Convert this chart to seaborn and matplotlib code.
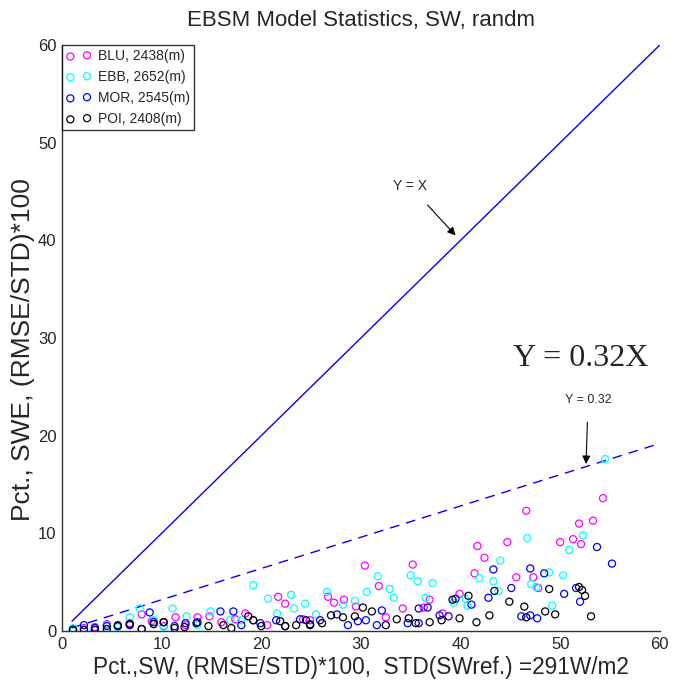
import numpy as np
import pandas as pd
import matplotlib
matplotlib.use("Agg")
import matplotlib.pyplot as plt
import seaborn as sns

sns.set_style("white")
plt.rcParams['font.family'] = ['Liberation Sans', 'DejaVu Sans']

title = "EBSM Model Statistics, SW, randm"
xlabel = "Pct.,SW, (RMSE/STD)*100,  STD(SWref.) =291W/m2"
ylabel = "Pct., SWE, (RMSE/STD)*100"
stations = ["BLU, 2438(m)", "EBB, 2652(m)", "MOR, 2545(m)", "POI, 2408(m)"]
colors = ["#ff00ff", "#00ffff", "#0000ff", "#000000"]

blu_x = [1.1, 2.2, 3.3, 4.5, 5.6, 6.8, 8.0, 9.0, 10.2, 11.4, 12.4, 13.6, 14.8, 16.0, 17.4, 18.4,
         19.2, 20.6, 21.7, 22.4, 24.2, 24.9, 26.7, 27.3, 28.3, 29.5, 30.4, 31.8, 32.5, 34.2, 35.2,
         36.3, 36.9, 38.2, 39.9, 41.4, 41.7, 42.4, 44.7, 45.6, 46.6, 47.3, 47.8, 50.0, 51.3, 51.9,
         52.1, 53.3, 54.3]
blu_y = [0.2, 0.3, 0.4, 0.7, 0.5, 0.8, 1.7, 1.0, 0.5, 1.4, 0.6, 1.4, 1.5, 0.9, 1.2, 1.8,
         1.1, 0.6, 3.5, 2.8, 1.2, 1.1, 3.5, 2.9, 3.2, 2.5, 6.7, 4.6, 1.4, 2.3, 6.8,
         2.4, 3.2, 1.8, 3.8, 5.9, 8.7, 7.5, 9.1, 5.5, 12.3, 5.5, 4.4, 9.1, 9.4, 11.0,
         8.9, 11.3, 13.6]

ebb_x = [1.1, 2.2, 3.3, 4.5, 5.6, 6.8, 7.8, 9.2, 10.2, 11.1, 12.5, 13.6, 14.9, 16.9, 18.0, 19.2,
         20.7, 21.6, 23.0, 23.3, 24.4, 25.5, 26.6, 28.2, 29.4, 30.6, 31.7, 32.9, 33.3, 35.0, 35.7,
         36.5, 37.2, 39.3, 40.5, 40.7, 41.9, 43.3, 43.8, 44.0, 46.7, 47.1, 47.6, 48.9, 49.2, 50.3,
         50.9, 52.3, 54.5]
ebb_y = [0.3, 0.2, 0.2, 0.6, 0.4, 1.4, 2.3, 1.1, 0.4, 2.3, 1.5, 0.6, 2.0, 1.1, 1.1, 4.7,
         3.3, 1.8, 3.7, 2.3, 2.8, 1.7, 4.0, 2.7, 3.1, 4.0, 5.6, 4.3, 3.4, 5.7, 5.1,
         3.4, 4.9, 2.9, 3.3, 2.6, 5.4, 5.1, 4.1, 7.2, 9.5, 4.8, 4.5, 6.0, 2.6, 5.7,
         8.3, 9.8, 17.6]

mor_x = [1.1, 2.2, 3.3, 4.5, 5.6, 6.8, 8.0, 8.8, 9.2, 10.2, 11.3, 12.4, 13.6, 15.9, 17.2, 18.0,
         19.9, 21.5, 22.4, 23.9, 24.9, 25.9, 27.6, 28.7, 29.7, 30.5, 31.6, 32.1, 34.7, 35.8, 35.8,
         36.7, 37.9, 38.8, 39.5, 41.1, 42.8, 43.3, 45.1, 46.1, 47.0, 47.0, 47.7, 48.4, 50.4, 51.6,
         52.0, 53.7, 55.2]
mor_y = [0.1, 0.6, 0.3, 0.5, 0.6, 0.6, 0.2, 1.9, 0.9, 0.9, 0.5, 0.8, 0.9, 2.0, 2.0, 0.6,
         0.8, 1.1, 0.5, 1.2, 0.7, 1.1, 1.7, 0.6, 1.0, 1.1, 0.6, 2.1, 0.8, 0.8, 2.3,
         2.4, 1.6, 1.5, 3.3, 2.7, 3.4, 6.3, 4.4, 1.5, 1.6, 6.4, 1.3, 5.9, 3.8, 4.4,
         3.0, 8.6, 6.9]

poi_x = [1.1, 2.2, 3.3, 4.5, 5.6, 6.8, 8.0, 9.2, 10.2, 11.3, 12.3, 13.5, 14.7, 16.2, 17.0, 18.7,
         19.2, 20.0, 21.9, 22.4, 23.5, 24.5, 24.9, 26.1, 27.0, 28.2, 29.4, 30.2, 31.1, 32.5, 33.6,
         34.8, 35.5, 36.9, 38.1, 39.2, 39.9, 40.8, 41.6, 42.9, 43.4, 44.9, 46.4, 46.6, 48.5, 48.9,
         49.5, 51.9, 52.2, 52.5, 53.1]
poi_y = [0.1, 0.1, 0.1, 0.2, 0.5, 0.7, 0.2, 0.7, 0.9, 0.3, 0.4, 0.8, 0.5, 0.6, 0.3, 1.5,
         1.1, 0.5, 1.0, 0.5, 0.6, 1.1, 0.6, 0.8, 1.6, 1.4, 1.5, 2.4, 2.0, 0.6, 1.2,
         1.3, 0.8, 0.9, 1.1, 3.2, 1.3, 3.6, 0.9, 1.6, 4.1, 3.0, 2.5, 1.4, 2.0, 4.3,
         1.7, 4.5, 4.2, 3.6, 1.5]

line_x = [1, 60]
slope = 0.32

fig = plt.figure(figsize=(6.83, 6.89), dpi=100)
ax = fig.add_axes([0.0908, 0.0842, 0.8752, 0.8505])

series = [(blu_x, blu_y), (ebb_x, ebb_y), (mor_x, mor_y), (poi_x, poi_y)]
for (xs, ys), name, col in zip(series, stations, colors):
    df = pd.DataFrame({"x": xs, "y": ys})
    sns.scatterplot(data=df, x="x", y="y", ax=ax, marker="o", s=26,
                    color=col, facecolor="none", edgecolor=col, linewidth=0.9,
                    label=name, zorder=3)

lx = np.array(line_x, dtype=float)
sns.lineplot(x=lx, y=lx, ax=ax, color="#0000ff", linewidth=1.0, legend=False)
sns.lineplot(x=lx, y=slope * lx, ax=ax, color="#0000ff", linewidth=1.0,
             dashes=False, legend=False).lines[-1].set_dashes([7, 5])

ax.set_xlim(0, 60)
ax.set_ylim(0, 60)
ax.set_xticks(range(0, 61, 10))
ax.set_yticks(range(0, 61, 10))
ax.tick_params(direction="in", length=5, width=0.8, color="#555555", labelsize=12,
               pad=4)
for s in ["top", "right"]:
    ax.spines[s].set_visible(False)
for s in ["left", "bottom"]:
    ax.spines[s].set_color("#333333")
    ax.spines[s].set_linewidth(1.0)

ax.set_title(title, fontsize=16, pad=14)
ax.set_xlabel(xlabel, fontsize=16.3, labelpad=3)
ax.set_ylabel(ylabel, fontsize=19)
ax.yaxis.set_label_coords(-0.045, 0.48)

ax.annotate("Y = X", xy=(39.5, 40.5), xytext=(34.9, 45.6), fontsize=10,
            ha="center", va="center",
            arrowprops=dict(arrowstyle="-|>", color="black", lw=0.8,
                            shrinkA=9, shrinkB=0, mutation_scale=12))
ax.annotate("Y = 0.32", xy=(52.6, 17.1), xytext=(52.8, 23.6), fontsize=9,
            ha="center", va="center",
            arrowprops=dict(arrowstyle="-|>", color="black", lw=0.8,
                            shrinkA=9, shrinkB=0, mutation_scale=12))
ax.text(52.1, 27.9, "Y = 0.32X", fontsize=23, ha="center", va="center",
        family=["Liberation Serif", "DejaVu Serif"])

leg = ax.legend(loc="upper left", bbox_to_anchor=(0.0, 1.0), borderaxespad=0,
                scatterpoints=2, fontsize=10, frameon=True, fancybox=False,
                edgecolor="black", handlelength=1.8, handletextpad=0.5,
                labelspacing=0.5, borderpad=0.3)
leg.get_frame().set_linewidth(1.0)

fig.savefig("out.png", dpi=100)
